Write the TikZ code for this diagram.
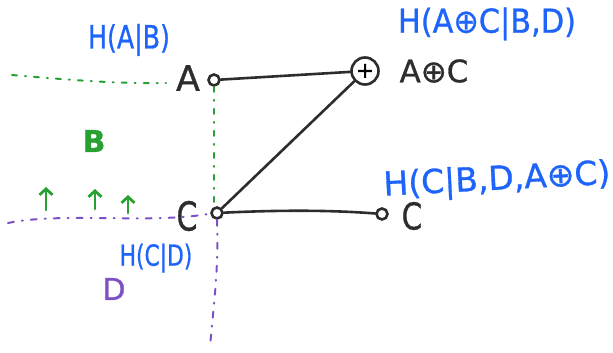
\documentclass[tikz,border=0pt]{standalone}
\usepackage{fontspec}
\newfontfamily\hwfont[FakeBold=0.9]{DejaVu Sans}
\usetikzlibrary{arrows.meta}
\definecolor{hblue}{RGB}{30,100,250}
\definecolor{hgreen}{RGB}{40,160,50}
\definecolor{hpurple}{RGB}{125,80,200}
\definecolor{hblack}{RGB}{45,45,45}
\newcommand\fs[1]{\fontsize{#1}{#1}\selectfont}
\tikzset{
  txt/.style={inner sep=0pt, font=\hwfont},
  dot/.style={circle, draw=hblack, line width=2.6pt, inner sep=0pt, minimum size=11pt, fill=white},
  xorc/.style={circle, draw=hblack, line width=2.6pt, inner sep=0pt, minimum width=27pt, minimum height=25pt, fill=white, font=\hwfont},
  wire/.style={draw=hblack, line width=2.6pt, line cap=round},
  gdots/.style={draw=hgreen, line width=2pt, line cap=round, dash pattern=on 5pt off 8pt on 1pt off 8pt},
  pdots/.style={draw=hpurple, line width=2pt, line cap=round, dash pattern=on 6pt off 8pt on 1pt off 8pt},
  garrow/.style={draw=hgreen, line width=2.8pt, line cap=round, -{Straight Barb[length=6pt,width=13pt,line width=2.8pt]}}
}
\begin{document}
\begin{tikzpicture}[x=1pt,y=-1pt]
\useasboundingbox (0,0) rectangle (613,353);
% text labels
\node[txt, text=hblue] (hab) at (129,40) {\scalebox{0.79}[1]{\fs{32}H(A|B)}};
\node[txt, text=hblue] (haxc) at (487,24) {\scalebox{0.92}[1]{\fs{33}H(A⊕C|B,D)}};
\node[txt, text=hblack] (laxc) at (434,71) {\fs{31}A⊕C};
\node[txt, text=hblack] (la) at (188,78) {\fs{35}A};
\node[txt, text=hgreen] (lb) at (94,141) {\fs{30}\bfseries B};
\node[txt, text=hblack] (lc) at (187,216) {\scalebox{0.75}[1]{\fs{40}C}};
\node[txt, text=hblue] (hcd) at (156,258) {\scalebox{0.75}[1]{\fs{29}H(C|D)}};
\node[txt, text=hpurple] (ld) at (114,289) {\fs{30}D};
\node[txt, text=hblack] (lc2) at (412,216) {\scalebox{0.8}[1]{\fs{37}C}};
\node[txt, text=hblue, rotate=3] (hcbd) at (497,181) {\fs{33}H(C|B,D,A⊕C)};
% dotted lines
\coordinate (g1) at (12,75);
\coordinate (g2) at (166,83);
\coordinate (g3) at (214,205);
\coordinate (p1) at (8,223);
\coordinate (p2) at (208,214);
\coordinate (p3) at (210,347);
\draw[gdots] (g1) .. controls (70,80) and (120,84) .. (g2);
% circles
\node[dot] (a) at (214,80) {};
\node[dot] (c) at (217,213) {};
\node[dot] (c2) at (382,214) {};
\node[xorc] (x) at (365,71) {\fs{22}+};
\draw[gdots] (a.south) -- (g3);
\draw[pdots] (p1) .. controls (60,212) and (150,224) .. (p2);
\draw[pdots] (c.south) .. controls (219,270) and (213,310) .. (p3);
% wires
\draw[wire] (a) -- (x);
\draw[wire] (c) -- (x);
\draw[wire] (c) .. controls (280,210) and (330,210) .. (c2);
% arrows
\coordinate (ar1s) at (46,210); \coordinate (ar1e) at (46,187);
\coordinate (ar2s) at (95,209); \coordinate (ar2e) at (95,189);
\coordinate (ar3s) at (128,213); \coordinate (ar3e) at (128,195);
\draw[garrow] (ar1s) -- (ar1e);
\draw[garrow] (ar2s) -- (ar2e);
\draw[garrow] (ar3s) -- (ar3e);
\end{tikzpicture}
\end{document}
